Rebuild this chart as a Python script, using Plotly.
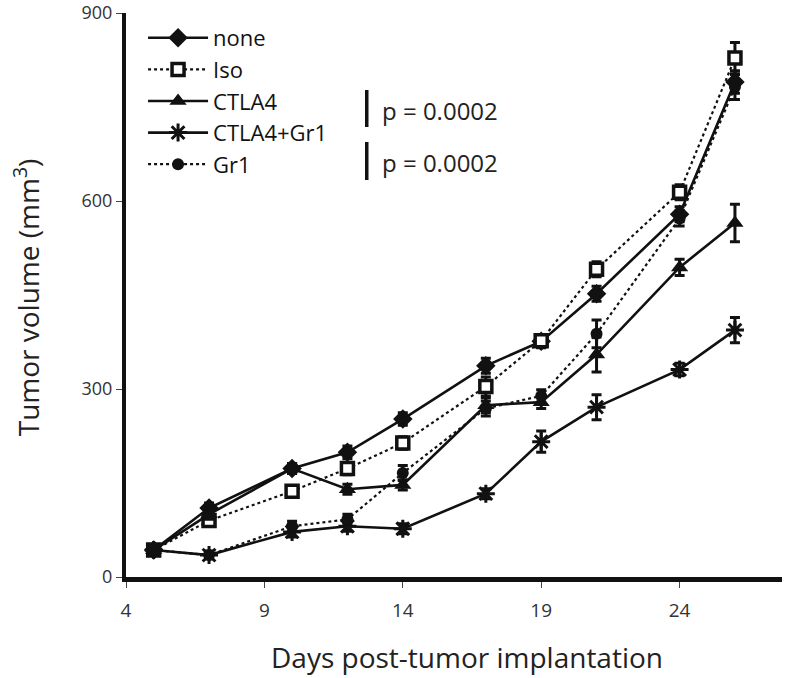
import plotly.graph_objects as go

days = [5, 7, 10, 12, 14, 17, 19, 21, 24, 26]

none_vals = [43, 110, 173, 199, 252, 337, 376, 452, 579, 790]
iso_vals = [43, 90, 137, 173, 214, 304, 377, 491, 614, 828]
ctla4_vals = [43, 100, 173, 140, 147, 274, 279, 355, 494, 565]
ctla4gr1_vals = [43, 35, 72, 81, 77, 133, 216, 271, 331, 394]
gr1_vals = [43, 35, 81, 92, 166, 269, 289, 388, 572, 782]

none_err = [8, 8, 8, 10, 10, 12, 10, 12, 12, 18]
iso_err = [8, 8, 8, 10, 10, 15, 10, 12, 12, 25]
ctla4_err = [8, 8, 8, 8, 8, 12, 10, 28, 13, 30]
ctla4gr1_err = [6, 6, 8, 8, 8, 8, 17, 20, 10, 20]
gr1_err = [6, 6, 8, 8, 12, 12, 10, 22, 12, 20]

x_ticks = [4, 9, 14, 19, 24]
y_ticks = [0, 300, 600, 900]

FONT = "Open Sans"
BLACK = "#111111"

series = [
    ("none", none_vals, none_err, "solid", dict(symbol="diamond", size=15, color=BLACK)),
    ("Iso", iso_vals, iso_err, "dot", dict(symbol="square", size=12, color="white",
                                           line=dict(color=BLACK, width=3.5))),
    ("CTLA4", ctla4_vals, ctla4_err, "solid", dict(symbol="triangle-up", size=15, color=BLACK)),
    ("CTLA4+Gr1", ctla4gr1_vals, ctla4gr1_err, "solid",
     dict(symbol="asterisk-open", size=15, color=BLACK, line=dict(color=BLACK, width=3))),
    ("Gr1", gr1_vals, gr1_err, "dot", dict(symbol="circle", size=12, color=BLACK)),
]

fig = go.Figure()
for name, vals, err, dash, marker in series:
    fig.add_trace(go.Scatter(
        x=days, y=vals, name=name, mode="lines+markers",
        line=dict(color=BLACK, width=2.6 if dash == "solid" else 2.2, dash=dash),
        marker=marker,
        error_y=dict(type="data", array=err, visible=True, color=BLACK,
                     thickness=3, width=5),
    ))

# plot area: y from 13 (top) to 577 (bottom) -> height 564
H = 564.0
def py(pix):
    return (577.0 - pix) / H

# p-value annotations
for pix in (110, 162):
    fig.add_annotation(x=0.387, y=py(pix), xref="paper", yref="paper",
                       text="p = 0.0002", showarrow=False, xanchor="left",
                       yanchor="middle",
                       font=dict(family=FONT, size=24, color="#222222"))
for (a, b) in ((90, 127), (142, 180)):
    fig.add_shape(type="line", xref="paper", yref="paper",
                  x0=0.367, x1=0.367, y0=py(b), y1=py(a),
                  line=dict(color=BLACK, width=3.5))

# axis titles
fig.add_annotation(x=0.52, y=py(657), xref="paper", yref="paper",
                   text="Days post-tumor implantation", showarrow=False,
                   xanchor="center", yanchor="middle",
                   font=dict(family=FONT, size=28, color="#222222"))
fig.add_annotation(x=-0.152, y=py(297), xref="paper", yref="paper",
                   text="Tumor volume (mm<sup>3</sup>)", showarrow=False,
                   textangle=-90, xanchor="center", yanchor="middle",
                   font=dict(family=FONT, size=28, color="#222222"))

fig.update_layout(
    width=800, height=678,
    margin=dict(l=126, r=18, t=13, b=101),
    paper_bgcolor="white", plot_bgcolor="white",
    font=dict(family=FONT, color="#222222"),
    showlegend=True,
    legend=dict(x=0.026, y=py(17), xanchor="left", yanchor="top",
                bgcolor="rgba(0,0,0,0)", itemwidth=60,
                font=dict(family=FONT, size=22, color="#111111"),
                tracegroupgap=0),
    xaxis=dict(range=[4, 27.7], tickvals=x_ticks, showgrid=False, zeroline=False,
               showline=True, linecolor=BLACK, linewidth=5,
               ticks="outside", ticklen=6, tickwidth=1, tickcolor="#444444",
               ticklabelstandoff=6, ticklabeloverflow="allow",
               tickfont=dict(family=FONT, size=19, color="#333333"),
               automargin=False),
    yaxis=dict(range=[0, 900], tickvals=y_ticks, showgrid=False, zeroline=False,
               showline=True, linecolor=BLACK, linewidth=4,
               ticks="outside", ticklen=6, tickwidth=1, tickcolor="#444444",
               ticklabeloverflow="allow",
               tickfont=dict(family=FONT, size=18, color="#333333"),
               automargin=False),
)

fig.write_html("out.html", config={"displayModeBar": False},
               post_script="document.body.style.margin='0';document.body.style.padding='0';")
